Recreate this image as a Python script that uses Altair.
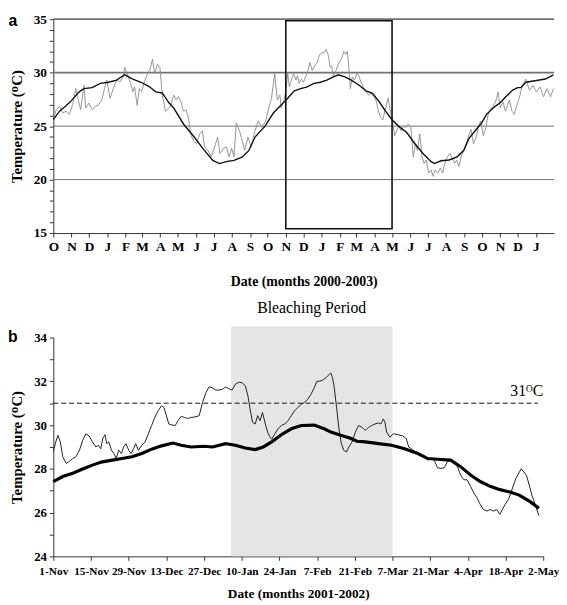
import altair as alt
import pandas as pd

SERIF = "Liberation Serif"
SANS = "Liberation Sans"

# ---------------- Panel a (days since 2000-10-01) ----------------
A_START = "2000-10-01"
A_DAILY_DAY = [0, 5, 10.5, 16, 21.7, 27.2, 32.8, 38.3, 41.1, 46.6, 52.2, 55, 60.5, 66.1, 71.6, 77.2,
               82.7, 87.2, 91.1, 96.6, 102.2, 107.7, 113.3, 118.8, 121.6, 126, 131.6, 135.5, 138.3,
               142.7, 146.6, 150.5, 154.9, 160.5, 164.9, 168.8, 172.7, 177.2, 181.6, 185.5, 191.1,
               199.4, 205, 209.4, 213.3, 217.2, 221.6, 226.1, 230, 233.8, 238.3, 243.8, 249.4, 253.8,
               257.7, 263.3, 268.8, 274.4, 279.9, 283.8, 289.4, 294.9, 299.4, 303.8, 307.7, 311.6,
               317.1, 321.6, 326, 331.6, 337.1, 342.7, 349.3, 354.9, 361.6, 367.1, 371.6, 377.1,
               381.5, 386, 388.2, 392.6, 396.5, 399.3, 402.1, 406, 409.3, 413.2, 416, 418.7, 422.6,
               426, 429.8, 433.7, 437.1, 441, 444.8, 449.3, 453.7, 457.6, 461.5, 464.8, 468.7, 471.5,
               474.3, 477, 481.5, 485.4, 490.9, 494.8, 498.1, 500.9, 503.7, 505.9, 509.3, 513.1, 517,
               520.4, 524.2, 528.1, 532.6, 537, 540.9, 546.5, 550.3, 553.7, 557.6, 561.5, 565.9,
               570.3, 574.2, 578.1, 581.4, 588.1, 592.5, 596.4, 600.3, 604.7, 609.2, 613.1, 617,
               620.3, 624.2, 628.1, 631.4, 635.3, 639.2, 643.6, 647, 650.3, 654.7, 659.2, 663.1, 667,
               671.4, 675.8, 679.7, 683.6, 687, 690.8, 694.7, 699.2, 703.6, 707.5, 711.4, 715.8,
               720.3, 724.1, 728, 732.5, 736.9, 740.8, 744.7, 749.1, 753.6, 757.5, 761.4, 765.8,
               770.2, 774.1, 776.9, 781.3, 785.2, 789.1, 793.6, 796.3, 799, 805, 811, 817, 823, 829,
               835, 841, 847, 852]
A_DAILY_TEMP = [25.63, 26.54, 26.85, 26.24, 26.39, 26.09, 27.0, 28.52, 27.76, 26.54, 28.82, 26.7,
                27.15, 26.54, 26.85, 27.0, 27.46, 28.52, 29.28, 27.6, 28.52, 29.28, 29.13, 29.58,
                30.5, 29.89, 28.98, 28.22, 28.67, 26.94, 28.52, 28.22, 29.13, 29.89, 30.35, 31.26,
                29.89, 30.8, 30.5, 27.9, 26.39,
                26.85, 27.9, 27.45, 27.76, 27.3, 26.4, 26.5, 25.8, 24.3, 23.65, 23.35, 24.26, 24.57,
                23.04, 22.74, 22.13, 23.0, 23.96, 22.44, 22.9, 23.04, 22.13, 22.9, 22.13, 25.3,
                24.57, 23.65, 22.74, 23.96, 23.04, 24.4, 25.5, 24.87, 25.48, 26.7, 27.6, 29.9,
                27.45, 27.9,
                26.7, 27.3, 28.5, 29.9, 28.67, 29.4, 29.9, 29.3, 29.7, 29.0, 29.4, 29.1, 29.6, 30.2,
                30.95, 30.2, 30.6, 30.95, 31.7, 31.87, 31.87, 32.17, 31.56, 30.5, 30.65, 29.7, 30.2,
                30.8, 31.26, 32.0, 31.7, 32.0, 30.2, 28.5, 29.6, 29.3, 29.9, 29.7, 29.1, 28.67, 28.2,
                27.9, 28.06, 27.76, 27.3, 26.4, 25.8, 25.6, 26.7, 27.6, 26.4, 25.3, 24.1,
                25.0, 24.57, 25.0, 24.87, 25.2, 24.87, 22.13, 23.35, 22.74, 24.26, 22.13, 21.52,
                21.83, 20.6, 20.9, 20.3, 20.9, 20.6, 21.07, 20.6, 21.52, 22.13, 22.44, 21.98, 21.52,
                21.83, 21.22, 22.13, 22.74, 23.35, 24.1, 24.7, 23.35, 23.96, 25.0, 25.48, 24.1,
                24.87, 26.1, 26.54, 26.85, 27.3, 28.2, 26.7, 27.3, 26.4, 27.0, 27.45, 26.4, 26.1,
                26.85, 27.6, 28.2, 28.8, 29.4, 28.35, 28.8, 28.2, 28.66, 27.75, 28.5, 27.75, 28.5]
A_CLIM_DAY = [0, 10.5, 21.7, 32.8, 43.9, 52.2, 66.1, 80, 93.9, 107.7, 121.6, 135.5, 149.4, 163.3,
              174.4, 185.5, 196.6, 205, 221.6, 238.3, 254.9, 271.6, 282.8, 296.6, 307.7, 321.6,
              332.8, 343.9, 360.6, 374.5, 388.4, 399.3, 410.4, 421.5, 432.6, 443.7, 454.8, 465.9,
              477, 485.4, 496.5, 507.6, 521.5, 532.6, 543.7, 554.8, 565.9, 577, 588.1, 602, 615.9,
              629.7, 643.6, 649.2, 660.3, 674.2, 688, 699.2, 707.5, 718.6, 729.7, 738, 749.1,
              760.2, 771.3, 782.5, 790.8, 796.3, 805, 823, 838, 852]
A_CLIM_TEMP = [25.6, 26.4, 26.9, 27.5, 28.2, 28.5, 28.6, 29.0, 29.1, 29.3, 29.8, 29.4, 29.1, 28.7,
               28.2, 28.1, 27.2, 26.7, 25.2, 24.1, 22.9, 21.8, 21.5, 21.7, 21.8, 22.1, 22.7, 24.0,
               25.0, 26.2, 27.0, 27.6, 28.3, 28.5, 28.67, 29.0, 29.1, 29.3, 29.6, 29.8, 29.6, 29.3,
               28.8, 28.3, 28.06, 27.3, 26.4, 25.6, 25.0, 24.4, 23.35, 22.44, 21.67, 21.5, 21.76,
               21.83, 22.13, 22.74, 23.8, 24.57, 25.3, 26.1, 26.7, 27.15, 27.76, 28.37, 28.6, 28.6,
               29.1, 29.27, 29.4, 29.8]
A_GRID_MAJOR = [30, 35]
A_GRID_MINOR = [20, 25]
A_BOX_DATES = ["2001-11-01", "2002-05-01"]
A_BOX_TEMPS = [15.4, 34.85]
A_MONTH_TICKS = [(2000, 10), (2000, 11), (2000, 12), (2001, 1), (2001, 2), (2001, 3), (2001, 4),
                 (2001, 5), (2001, 6), (2001, 7), (2001, 8), (2001, 9), (2001, 10), (2001, 11),
                 (2001, 12), (2002, 1), (2002, 2), (2002, 3), (2002, 4), (2002, 5), (2002, 6),
                 (2002, 7), (2002, 8), (2002, 9), (2002, 10), (2002, 11), (2002, 12), (2003, 1)]

# ---------------- Panel b (days since 2001-11-01) ----------------
B_START = "2001-11-01"
B_DAILY_DAY = [0, 0.9, 1.7, 2.6, 3.5, 4.8, 6, 7.2, 8.4, 9.7, 10.9, 12.1, 13.3, 14.5, 15.8, 16.7,
               17.6, 18.4, 19.2, 19.8, 20.6, 21.6, 22.5, 23.3, 24.3, 25.3, 26.1, 27, 28, 28.9,
               29.8, 30.6, 31.6, 32.9, 34.1, 35.3, 36.5, 37.7, 38.9, 40.2, 41.1, 42, 42.9, 44.1,
               45.3, 46.3, 47.5, 48.7, 49.9, 51.2, 53, 54.2, 55.4, 56.7, 57.9, 59.1, 60.3, 61.5,
               62.8, 64, 65.2, 66.4, 67.6, 68.9, 70.1, 71.3, 72.3, 73.1, 74, 75, 75.9, 76.8, 77.7,
               78.6, 79.6, 80.5, 81.1, 82.3, 83.5, 84.7, 86, 87.2, 88.4, 89.6, 90.8, 92.1, 93.3,
               94.5, 95.7, 96.9, 97.9, 98.8, 100, 101.2, 102.4, 103.1, 103.7, 104.3, 105.3, 106.1,
               107, 107.9, 108.9, 109.8, 111, 112.2, 113.4, 114.7, 115.9, 117.1, 118.3, 119.5,
               120.8, 121.7, 122.6, 123.2, 123.8, 125, 126.3, 128.1, 129.9, 131.1, 132, 133, 134.2,
               135.4, 136.6, 137.9, 139.1, 140.3, 141.5, 142.7, 144, 145.2, 146.4, 147.6, 148.9,
               150.1, 151.3, 152.5, 153.7, 155, 156.2, 157.4, 158.6, 159.8, 161.1, 162.3, 163.5,
               164.7, 165.9, 167.8, 169.1, 171.8, 173.8, 175.8, 177.8, 180.4]
B_DAILY_TEMP = [28.8, 29.23, 29.53, 29.23, 28.55, 28.25, 28.35, 28.47, 28.55, 28.85, 29.3, 29.6,
                29.5, 29.23, 29.0, 29.08, 28.92, 29.4, 29.56, 29.15, 29.23, 28.85, 28.7, 28.47,
                28.85, 28.7, 29.0, 29.15, 28.85, 28.7, 28.92, 29.15, 28.85, 29.08, 29.23, 29.6,
                29.98, 30.35, 30.65, 30.88, 30.8, 30.43, 30.05, 30.0, 29.98, 30.2, 30.4, 30.35,
                30.3, 30.35, 30.38, 30.43, 31.03, 31.48, 31.75, 31.7, 31.6, 31.6, 31.63, 31.74,
                31.66, 31.6, 31.86, 31.96, 31.93, 31.8, 31.33, 30.73, 30.13, 30.05, 30.43, 30.2,
                30.58, 30.13, 29.68, 29.45, 29.35, 29.6, 29.83, 29.98, 30.05, 30.2, 30.43, 30.65,
                30.8, 30.95, 31.03, 31.18, 31.4, 31.7, 32.0, 32.0, 32.05, 32.16, 32.3, 32.38,
                32.16, 31.78, 30.73, 29.83, 29.15, 28.85, 28.77, 29.0, 29.23, 29.68, 29.98, 29.9,
                29.75, 29.9, 29.98, 30.05, 30.1, 30.05, 30.28, 30.13, 29.68, 29.45, 29.6, 29.56,
                29.5, 29.38, 29.0, 28.92, 28.8, 28.74, 28.62, 28.55, 28.4, 28.47, 28.4, 28.05,
                28.02, 28.05, 28.32, 28.4, 28.25, 28.1, 27.72, 27.5, 27.5, 27.2, 26.9, 26.67,
                26.37, 26.14, 26.07, 26.14, 26.07, 26.14, 25.92, 26.37, 26.6, 27.55, 28.0, 27.7,
                26.8, 25.86]
B_CLIM_DAY = [0, 3.5, 7.2, 10.9, 14.5, 18.2, 21.9, 25.5, 29.2, 32.9, 36.5, 40.2, 44.4, 47.5, 51.2,
              56, 59.1, 64, 67.6, 71.3, 75, 78, 81.1, 84.7, 88.4, 92.1, 96.9, 100.6, 103.1, 106.7,
              110.4, 112.8, 115.9, 120.8, 125.7, 130.5, 135.4, 139.1, 142.7, 147.6, 151.3, 155,
              158.6, 162.3, 165.9, 169.6, 173.1, 177.1, 180.4]
B_CLIM_TEMP = [27.42, 27.65, 27.8, 27.99, 28.17, 28.32, 28.4, 28.47, 28.55, 28.7, 28.9, 29.05,
               29.18, 29.08, 29.0, 29.03, 29.0, 29.15, 29.08, 28.95, 28.88, 29.0, 29.23, 29.56,
               29.83, 29.98, 30.0, 29.83, 29.68, 29.53, 29.4, 29.26, 29.23, 29.15, 29.08, 28.92,
               28.7, 28.47, 28.44, 28.4, 28.1, 27.72, 27.42, 27.2, 27.05, 26.94, 26.8, 26.5, 26.2]
B_TICKS = [(2001, 11, 1), (2001, 11, 15), (2001, 11, 29), (2001, 12, 13), (2001, 12, 27),
           (2002, 1, 10), (2002, 1, 24), (2002, 2, 7), (2002, 2, 21), (2002, 3, 7),
           (2002, 3, 21), (2002, 4, 4), (2002, 4, 18), (2002, 5, 2)]
BLEACH_DATES = ["2002-01-06", "2002-03-07"]
BLEACH_TEMPS = [24, 34.5]
THRESHOLD = 31
THRESH_DATES = ["2001-11-01", "2002-04-30"]


def to_dates(start, days):
    return pd.Timestamp(start) + pd.to_timedelta(pd.Series(days, dtype=float), unit="D")


# ---------------- build panel a ----------------
a_daily = pd.DataFrame({"date": to_dates(A_START, A_DAILY_DAY), "temp": A_DAILY_TEMP})
a_clim = pd.DataFrame({"date": to_dates(A_START, A_CLIM_DAY), "temp": A_CLIM_TEMP})
a_box = pd.DataFrame({"date": [pd.Timestamp(A_BOX_DATES[0])], "date2": [pd.Timestamp(A_BOX_DATES[1])],
                      "temp": [A_BOX_TEMPS[0]], "temp2": [A_BOX_TEMPS[1]]})

xa_scale = alt.Scale(domain=[alt.DateTime(year=2000, month=10, date=1),
                             alt.DateTime(year=2003, month=2, date=1)])
ya_scale = alt.Scale(domain=[15, 35], nice=False)

xa = alt.X("date:T", scale=xa_scale, title="Date (months 2000-2003)",
           axis=alt.Axis(values=[alt.DateTime(year=y, month=m, date=1) for y, m in A_MONTH_TICKS],
                         format="%b", labelExpr="substring(datum.label, 0, 1)",
                         labelFontSize=13.5, titleFontSize=14, tickSize=4, labelPadding=3,
                         titlePadding=22, labelOverlap=False, labelFlush=False))
ya = alt.Y("temp:Q", scale=ya_scale, title="Temperature (ᴼC)",
           axis=alt.Axis(values=list(range(15, 36)),
                         labelExpr="datum.value % 5 == 0 ? datum.label : ''",
                         labelFontSize=13.5, titleFontSize=15, tickSize=4, labelPadding=3,
                         titlePadding=9))

grid_major = alt.Chart(pd.DataFrame({"temp": A_GRID_MAJOR})).mark_rule(
    color="#707070", strokeWidth=1.8).encode(y=ya)
grid_minor = alt.Chart(pd.DataFrame({"temp": A_GRID_MINOR})).mark_rule(
    color="#707070", strokeWidth=1.0).encode(y=ya)
a_line_daily = alt.Chart(a_daily).mark_line(color="#8a8a8a", strokeWidth=0.9).encode(x=xa, y=ya)
a_line_clim = alt.Chart(a_clim).mark_line(color="#111111", strokeWidth=1.4).encode(x=xa, y=ya)
a_rect = alt.Chart(a_box).mark_rect(fillOpacity=0, stroke="#111111", strokeWidth=1.6).encode(
    x=xa, x2="date2:T", y=ya, y2="temp2:Q")
a_label = alt.Chart(pd.DataFrame({"t": ["a"]})).mark_text(
    font=SANS, fontWeight="bold", fontSize=16, align="center", baseline="middle").encode(
    text="t:N", x=alt.value(-41), y=alt.value(2))

panel_a = alt.layer(grid_minor, grid_major, a_line_daily, a_line_clim, a_rect, a_label).properties(
    width=508, height=217)

# ---------------- build panel b ----------------
b_daily = pd.DataFrame({"date": to_dates(B_START, B_DAILY_DAY), "temp": B_DAILY_TEMP})
b_clim = pd.DataFrame({"date": to_dates(B_START, B_CLIM_DAY), "temp": B_CLIM_TEMP})
b_shade = pd.DataFrame({"date": [pd.Timestamp(BLEACH_DATES[0])], "date2": [pd.Timestamp(BLEACH_DATES[1])],
                        "temp": [BLEACH_TEMPS[0]], "temp2": [BLEACH_TEMPS[1]]})
b_thresh = pd.DataFrame({"date": [pd.Timestamp(THRESH_DATES[0])], "date2": [pd.Timestamp(THRESH_DATES[1])],
                         "temp": [THRESHOLD]})
b_text = pd.DataFrame({"date": [pd.Timestamp("2002-02-05")], "temp": [35.35], "t": ["Bleaching Period"]})
b_thr_text = pd.DataFrame({"date": [pd.Timestamp("2002-05-02")], "temp": [31.55], "t": ["31ᴼC"]})

xb_scale = alt.Scale(domain=[alt.DateTime(year=2001, month=11, date=1),
                             alt.DateTime(year=2002, month=5, date=2)])
yb_scale = alt.Scale(domain=[24, 34], nice=False)

xb = alt.X("date:T", scale=xb_scale, title="Date (months 2001-2002)",
           axis=alt.Axis(values=[alt.DateTime(year=y, month=m, date=d) for y, m, d in B_TICKS],
                         format="%-d-%b", labelFontSize=11.5, titleFontSize=13.5, tickSize=4,
                         labelPadding=5, titlePadding=10, labelOverlap=False, labelFlush=False))
yb = alt.Y("temp:Q", scale=yb_scale, title="Temperature (ᴼC)",
           axis=alt.Axis(values=list(range(24, 35)),
                         labelExpr="datum.value % 2 == 0 ? datum.label : ''",
                         labelFontSize=13, titleFontSize=15, tickSize=4, labelPadding=3,
                         titlePadding=9))

b_rect = alt.Chart(b_shade).mark_rect(color="#e5e5e5").encode(x=xb, x2="date2:T", y=yb, y2="temp2:Q")
b_rule = alt.Chart(b_thresh).mark_rule(color="#111111", strokeWidth=1, strokeDash=[5, 3]).encode(
    x=xb, x2="date2:T", y=yb)
b_line_daily = alt.Chart(b_daily).mark_line(color="#222222", strokeWidth=1).encode(x=xb, y=yb)
b_line_clim = alt.Chart(b_clim).mark_line(color="#000000", strokeWidth=3.2).encode(x=xb, y=yb)
b_title = alt.Chart(b_text).mark_text(font=SERIF, fontSize=16, align="center",
                                      baseline="middle").encode(x=xb, y=yb, text="t:N")
b_thr = alt.Chart(b_thr_text).mark_text(font=SERIF, fontSize=16, align="right",
                                        baseline="middle").encode(x=xb, y=yb, text="t:N")
b_label = alt.Chart(pd.DataFrame({"t": ["b"]})).mark_text(
    font=SANS, fontWeight="bold", fontSize=16, align="center", baseline="middle").encode(
    text="t:N", x=alt.value(-41), y=alt.value(0))

panel_b = alt.layer(b_rect, b_rule, b_line_daily, b_line_clim, b_title, b_thr, b_label).properties(
    width=497, height=222)

chart = alt.vconcat(panel_a, panel_b, spacing=11).properties(padding=0).configure_view(
    stroke=None).configure_axis(
    labelFont=SERIF, titleFont=SERIF, labelFontWeight="bold", titleFontWeight="bold",
    labelColor="#000000", titleColor="#000000", domainColor="#333333", tickColor="#333333",
    grid=False)

chart.save("out.html", embed_options={"renderer": "svg", "actions": False})
